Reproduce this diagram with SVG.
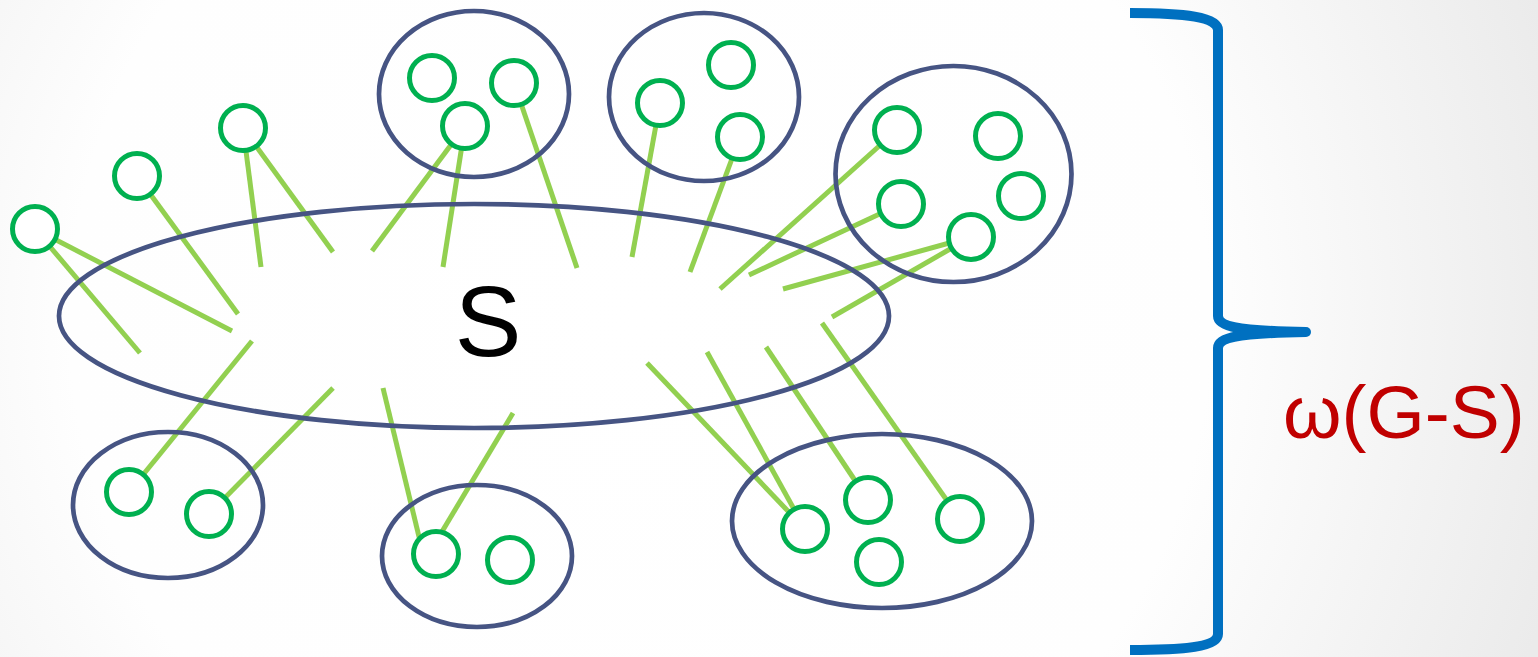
<svg xmlns="http://www.w3.org/2000/svg" width="1538" height="657" viewBox="0 0 1538 657">
  <defs>
    <radialGradient id="bg" cx="640" cy="320" r="950" gradientUnits="userSpaceOnUse">
      <stop offset="0" stop-color="#ffffff"/>
      <stop offset="0.6" stop-color="#fefefe"/>
      <stop offset="1" stop-color="#ebebeb"/>
    </radialGradient>
  </defs>
  <style>
    .edge { stroke: #92d050; stroke-width: 5; fill: none; }
    .hull { stroke: #465483; stroke-width: 4.7; fill: none; }
    .v { stroke: #00b050; stroke-width: 5; fill: #ffffff; }
    .brace { stroke: #0070c0; stroke-width: 10; fill: none; stroke-linecap: butt; }
    .lbl { font-family: "Liberation Sans", Arial, sans-serif; }
  </style>

  <rect width="1538" height="657" fill="url(#bg)"/>

  <!-- edges from components to separator S -->
  <g id="connectors">
    <line class="edge" x1="35" y1="229" x2="140" y2="353"/>
    <line class="edge" x1="35" y1="229" x2="232" y2="331"/>
    <line class="edge" x1="137" y1="176" x2="238" y2="314"/>
    <line class="edge" x1="243" y1="128" x2="261" y2="267"/>
    <line class="edge" x1="243" y1="128" x2="333" y2="252"/>
    <line class="edge" x1="465" y1="126" x2="372" y2="251"/>
    <line class="edge" x1="465" y1="126" x2="443" y2="267"/>
    <line class="edge" x1="514" y1="83" x2="577" y2="268"/>
    <line class="edge" x1="660" y1="103" x2="632" y2="257"/>
    <line class="edge" x1="740" y1="137" x2="690" y2="272"/>
    <line class="edge" x1="897" y1="130" x2="720" y2="289"/>
    <line class="edge" x1="901" y1="204" x2="749" y2="275"/>
    <line class="edge" x1="971" y1="237" x2="783" y2="289"/>
    <line class="edge" x1="971" y1="237" x2="832" y2="317"/>
    <line class="edge" x1="129" y1="492" x2="252" y2="341"/>
    <line class="edge" x1="209" y1="514" x2="333" y2="388"/>
    <line class="edge" x1="421" y1="545" x2="383" y2="388"/>
    <line class="edge" x1="434" y1="545" x2="513" y2="413"/>
    <line class="edge" x1="805" y1="529" x2="647" y2="363"/>
    <line class="edge" x1="805" y1="529" x2="707" y2="352"/>
    <line class="edge" x1="868" y1="500" x2="766" y2="347"/>
    <line class="edge" x1="960" y1="519" x2="822" y2="323"/>
  </g>

  <!-- separator set S -->
  <g id="S">
    <ellipse class="hull" cx="474" cy="316" rx="415" ry="112"/>
    <text class="lbl" x="488" y="356" font-size="100" text-anchor="middle" fill="#000000">S</text>
  </g>

  <!-- loose vertices on the left -->
  <g id="v-left-1"><circle class="v" cx="35" cy="229" r="22.5"/></g>
  <g id="v-left-2"><circle class="v" cx="137" cy="176" r="22.5"/></g>
  <g id="v-left-3"><circle class="v" cx="243" cy="128" r="22.5"/></g>

  <!-- components of G-S -->
  <g id="comp-top-1">
    <ellipse class="hull" cx="474" cy="94" rx="95" ry="83"/>
    <circle class="v" cx="432" cy="78" r="22.5"/>
    <circle class="v" cx="514" cy="83" r="22.5"/>
    <circle class="v" cx="465" cy="126" r="22.5"/>
  </g>
  <g id="comp-top-2">
    <ellipse class="hull" cx="704" cy="97" rx="95" ry="84"/>
    <circle class="v" cx="731" cy="65" r="22.5"/>
    <circle class="v" cx="660" cy="103" r="22.5"/>
    <circle class="v" cx="740" cy="137" r="22.5"/>
  </g>
  <g id="comp-top-right">
    <ellipse class="hull" cx="953.5" cy="174" rx="118" ry="108"/>
    <circle class="v" cx="897" cy="130" r="22.5"/>
    <circle class="v" cx="998" cy="136" r="22.5"/>
    <circle class="v" cx="901" cy="204" r="22.5"/>
    <circle class="v" cx="1021" cy="196" r="22.5"/>
    <circle class="v" cx="971" cy="237" r="22.5"/>
  </g>
  <g id="comp-bottom-left">
    <ellipse class="hull" cx="168" cy="505" rx="95" ry="73"/>
    <circle class="v" cx="129" cy="492" r="22.5"/>
    <circle class="v" cx="209" cy="514" r="22.5"/>
  </g>
  <g id="comp-bottom-mid">
    <ellipse class="hull" cx="477" cy="556" rx="95" ry="71"/>
    <circle class="v" cx="436" cy="554" r="22.5"/>
    <circle class="v" cx="510" cy="560" r="22.5"/>
  </g>
  <g id="comp-bottom-right">
    <ellipse class="hull" cx="882" cy="521" rx="150" ry="87"/>
    <circle class="v" cx="805" cy="529" r="22.5"/>
    <circle class="v" cx="868" cy="500" r="22.5"/>
    <circle class="v" cx="879" cy="562" r="22.5"/>
    <circle class="v" cx="960" cy="519" r="22.5"/>
  </g>

  <!-- right brace with omega(G-S) -->
  <g id="brace">
    <path class="brace" d="M1130,13 C1185,13 1218,17 1218,30 L1218,316 C1218,327 1240,331 1306,332"/>
    <path class="brace" d="M1306,332 C1240,333 1218,337 1218,348 L1218,634 C1218,647 1185,650 1130,650"/>
    <circle cx="1306" cy="332" r="5" fill="#0070c0"/>
    <text class="lbl" x="1283" y="438" font-size="75" fill="#c00000">ω(G-S)</text>
  </g>
</svg>
